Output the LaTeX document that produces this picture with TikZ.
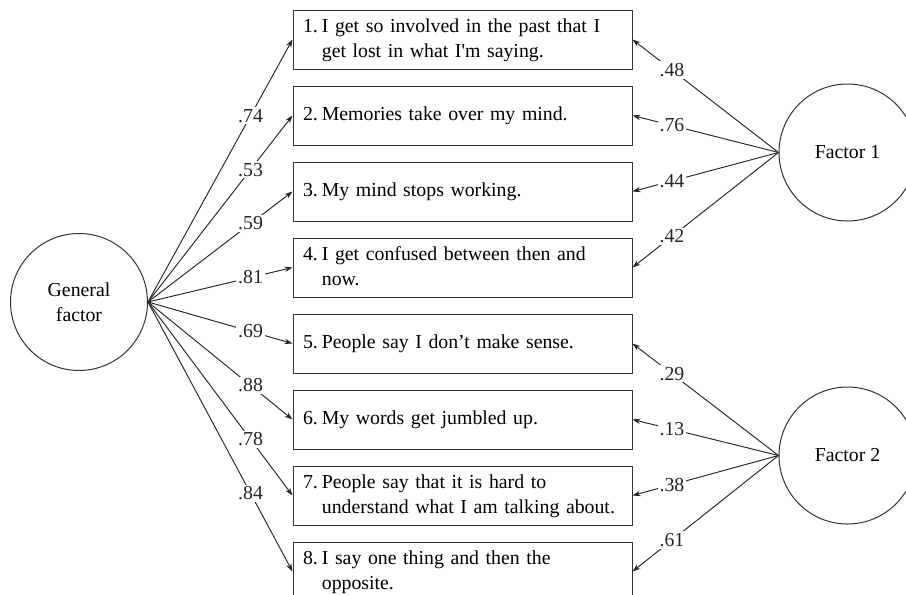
\documentclass[tikz,border=0pt]{standalone}
\usepackage{fontspec}
\setmainfont{Liberation Serif}
\usetikzlibrary{arrows.meta,positioning}
\newcommand{\qitem}[2]{\begin{tabular}{@{}l@{\hspace{4pt}}l@{}}#1 & #2\end{tabular}}

\begin{document}
\begin{tikzpicture}[
        x=1pt, y=-1pt,
        font=\fontsize{19.8}{25}\selectfont,
        node distance=16pt,
        item/.style  ={draw=black!80, line width=1pt, text width=319pt, inner xsep=10pt, inner ysep=0pt, align=left, minimum height=59pt},
        factor/.style={draw=black!80, line width=1pt, circle, minimum size=137pt, inner sep=0pt, align=center},
        load/.style  ={-{Stealth[length=8pt,width=5.5pt]}, line width=0.95pt, black!85},
        coef/.style  ={fill=white, inner sep=2pt},
    ]
        \useasboundingbox (0,0) rectangle (906,595);

        % --- Items ---
        \node[item] (i1) at (462.5,39.5) {\qitem{1.}{I get so involved in the past that I\\ & get lost in what I\textquotesingle m saying.}};
        \node[item, below=of i1] (i2) {\qitem{2.}{Memories take over my mind.}};
        \node[item, below=of i2] (i3) {\qitem{3.}{My mind stops working.}};
        \node[item, below=of i3] (i4) {\qitem{4.}{I get confused between then and\\ & now.}};
        \node[item, below=of i4] (i5) {\qitem{5.}{People say I don’t make sense.}};
        \node[item, below=of i5] (i6) {\qitem{6.}{My words get jumbled up.}};
        \node[item, below=of i6] (i7) {\qitem{7.}{People say that it is hard to\\ & understand what I am talking about.}};
        \node[item, below=of i7] (i8) {\qitem{8.}{I say one thing and then the\\ & opposite.}};

        % --- Factors ---
        \node[factor] (gen) at (79,302) {General\\factor};
        \node[factor] (f1) at (847.5,152.5) {Factor 1};
        \node[factor] (f2) at (847.5,455.5) {Factor 2};

        % --- General factor loadings ---
        \draw[load] (gen.east) -- node[coef, pos=0.71] {.74} (i1.west);
        \draw[load] (gen.east) -- node[coef, pos=0.71] {.53} (i2.west);
        \draw[load] (gen.east) -- node[coef, pos=0.71] {.59} (i3.west);
        \draw[load] (gen.east) -- node[coef, pos=0.71] {.81} (i4.west);
        \draw[load] (gen.east) -- node[coef, pos=0.71] {.69} (i5.west);
        \draw[load] (gen.east) -- node[coef, pos=0.71] {.88} (i6.west);
        \draw[load] (gen.east) -- node[coef, pos=0.71] {.78} (i7.west);
        \draw[load] (gen.east) -- node[coef, pos=0.71] {.84} (i8.west);

        % --- Specific factor loadings ---
        \draw[load] (f1.west) -- node[coef, pos=0.73] {.48} (i1.east);
        \draw[load] (f1.west) -- node[coef, pos=0.73] {.76} (i2.east);
        \draw[load] (f1.west) -- node[coef, pos=0.73] {.44} (i3.east);
        \draw[load] (f1.west) -- node[coef, pos=0.73] {.42} (i4.east);
        \draw[load] (f2.west) -- node[coef, pos=0.73] {.29} (i5.east);
        \draw[load] (f2.west) -- node[coef, pos=0.73] {.13} (i6.east);
        \draw[load] (f2.west) -- node[coef, pos=0.73] {.38} (i7.east);
        \draw[load] (f2.west) -- node[coef, pos=0.73] {.61} (i8.east);
    \end{tikzpicture}
\end{document}
